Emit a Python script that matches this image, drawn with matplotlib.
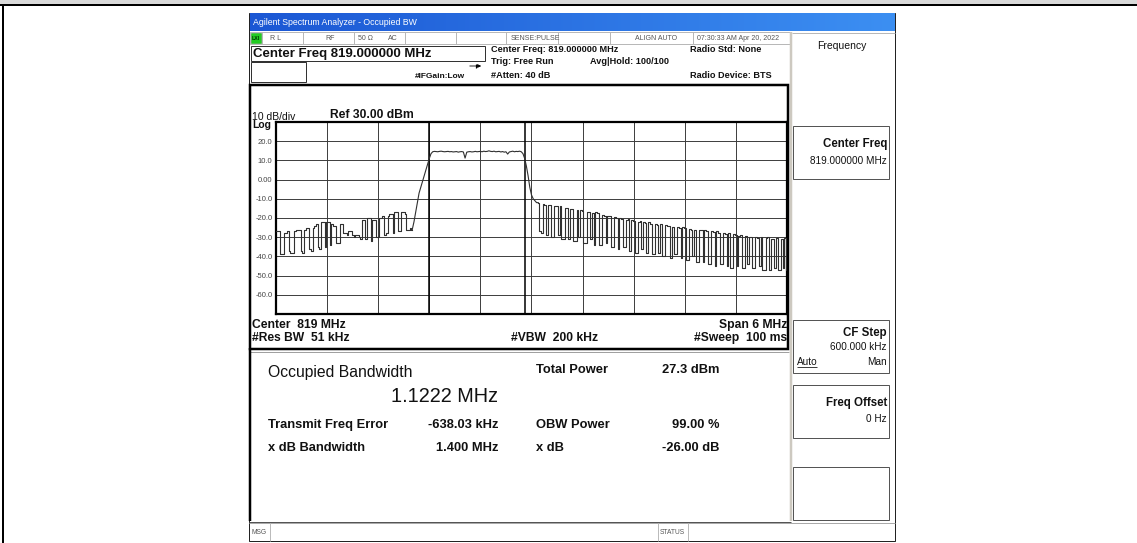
import matplotlib
matplotlib.use('Agg')
import matplotlib.pyplot as plt
import numpy as np
from matplotlib.patches import Rectangle

plt.rcParams['font.family'] = ['Liberation Sans', 'DejaVu Sans']

# ---------------- data ----------------
freq_start_mhz = 816.0
freq_stop_mhz = 822.0
trace_dbm = [
    -27, -27, -27, -39, -39, -28, -28, -27, -37, -38,
    -38, -27, -26, -26, -26, -37, -38, -26, -25, -25,
    -36, -37, -25, -24, -23, -35, -36, -22, -22, -35,
    -22, -22, -34, -23, -24, -24, -33, -33, -23, -23,
    -28, -28, -29, -27, -27, -29, -30, -29, -29, -30,
    -31, -21, -21, -31, -20, -20, -32, -21, -21, -30,
    -30, -20, -20, -19, -29, -28, -19, -18, -18, -28,
    -17, -17, -27, -27, -17, -17, -18, -26, -26, -25,
    -26, -22, -17, -12, -7, -4, -1, 2, 5, 8,
    11, 13.5, 14.5, 14.7, 14.6, 14.5, 14.7, 14.8, 14.6, 14.5,
    14.6, 14.7, 14.5, 14.6, 14.4, 14.5, 14.6, 14.3, 14.5, 14.6,
    14.4, 11.2, 14.3, 14.5, 14.6, 14.4, 14.5, 14.7, 14.5, 14.6,
    14.7, 14.5, 14.8, 14.6, 14.7, 15.0, 14.7, 14.6, 14.8, 14.5,
    14.6, 14.7, 14.4, 14.6, 14.3, 14.5, 13.3, 14.4, 14.6, 14.8,
    14.5, 14.7, 14.6, 14.8, 14.5, 13.5, 11, 7, 2, -4,
    -8, -10, -11, -12, -12, -27, -28, -12.5, -13, -29,
    -13, -13, -30, -30, -14, -14, -29, -14, -31, -31,
    -15, -15, -31, -15.5, -15.5, -32, -32, -16, -30, -16,
    -16.5, -33, -33, -17, -17, -31, -17.5, -34, -17, -17.5,
    -34, -34, -18.5, -19, -33, -19, -19, -35, -35, -19.5,
    -20, -36, -20, -20.5, -35, -35, -21, -20.5, -37, -21,
    -21.5, -38, -38, -22, -21.5, -36, -22, -22.5, -38, -22,
    -23, -39, -39, -23, -23.5, -38, -23, -40, -40, -23.5,
    -24, -24, -41, -24.5, -39, -39, -24.5, -25, -41, -24.5,
    -25, -42, -42, -25.5, -26, -40, -26, -43, -43, -26,
    -26.5, -43, -26.5, -27, -44, -44, -27, -27.5, -45, -27,
    -28, -44, -44, -28, -28.5, -45, -28, -46, -46, -28.5,
    -29, -45, -29.5, -29, -46, -46, -29.5, -44, -30, -30,
    -46, -46, -30, -30.5, -45, -30, -47, -47, -30.5, -30,
    -47, -31, -31, -46, -30.5, -47, -47, -31, -46, -30.5,
    -47,
]
# sample indices where the carrier (smooth part) starts and ends
carrier_first_index = 80
carrier_last_index = 154
obw_markers_mhz = [817.80, 818.922]
ref_level_dbm = 30
bottom_level_dbm = -70
y_tick_values = [30, 20, 10, 0, -10, -20, -30, -40, -50, -60, -70]
y_tick_labels = ['', '20.0', '10.0', '0.00', '-10.0', '-20.0', '-30.0',
                 '-40.0', '-50.0', '-60.0', '']
n_xdiv = 10

# ---------------- figure ----------------
W, H = 1137, 543
fig = plt.figure(figsize=(W / 100, H / 100), dpi=100)
bg = fig.add_axes([0, 0, 1, 1])
bg.set_zorder(0)
bg.set_xlim(0, W)
bg.set_ylim(H, 0)
bg.axis('off')

PX = 0.72


def rect(x0, y0, x1, y1, fc='none', ec='none', lw=1, z=1):
    bg.add_patch(Rectangle((x0, y0), x1 - x0, y1 - y0, facecolor=fc,
                           edgecolor=ec, linewidth=lw * PX, zorder=z))


def line(xs, ys, c='k', lw=1, z=2):
    bg.plot(xs, ys, color=c, lw=lw * PX, zorder=z, solid_capstyle='butt')


def txt(x, y, s, size=7, weight='normal', ha='left', color='#111111', **kw):
    bg.text(x, y, s, fontsize=size, fontweight=weight, ha=ha, va='center',
            color=color, zorder=6, **kw)


# page frame
rect(0, 0, W, 4, fc='#d9d9d9', z=0)
line([0, W], [5, 5], 'k', 2)
line([3, 3], [5, H], 'k', 2)

# screenshot body
rect(249, 13, 895, 541, fc='white', ec='#222222', lw=1, z=0.5)

# title bar gradient
grad = np.linspace(0, 1, 256)
c0 = np.array([0x1b, 0x57, 0xd4]) / 255
c1 = np.array([0x3c, 0x8f, 0xf2]) / 255
img = (c0[None, :] * (1 - grad[:, None]) + c1[None, :] * grad[:, None])[None, :, :]
bg.imshow(img, extent=(249.5, 894.5, 31, 13.5), aspect='auto', zorder=1)
bg.set_xlim(0, W)
bg.set_ylim(H, 0)
txt(253, 22.5, 'Agilent Spectrum Analyzer - Occupied BW', 6.3, color='white')

# status row
rect(249.5, 32, 791, 44, fc='white', ec='#b8b8b8', lw=1)
rect(251, 33, 261, 43, fc='#22cc22', ec='#119911', lw=0.5, z=2)
txt(252, 38.5, 'LXI', 3.8, 'bold', color='#003300')
for xd in [262, 303, 354, 405, 456, 506, 558, 610, 693]:
    line([xd, xd], [32, 44], '#b8b8b8', 1)
for xs, s in [(270, 'R L'), (325, 'RF'), (358, '50 Ω'), (388, 'AC'),
              (511, 'SENSE:PULSE'), (635, 'ALIGN AUTO'),
              (697, '07:30:33 AM Apr 20, 2022')]:
    txt(xs, 38.5, s, 5, color='#555555')

# header
rect(251, 46, 485, 61, ec='#333333', lw=1)
txt(253, 53.5, 'Center Freq 819.000000 MHz', 9.5, 'bold')
rect(251, 62, 306, 82, ec='#333333', lw=1)
txt(415, 76, '#IFGain:Low', 6, 'bold')
bg.annotate('', xy=(484, 66), xytext=(467, 66),
            arrowprops=dict(arrowstyle='-|>', lw=0.6, color='k', mutation_scale=5),
            zorder=6)
line([475.5, 475.5], [64, 68], 'k', 1.2)
txt(491, 49.5, 'Center Freq: 819.000000 MHz', 6.6, 'bold')
txt(491, 62, 'Trig: Free Run', 6.6, 'bold')
txt(590, 61.5, 'Avg|Hold: 100/100', 6.6, 'bold')
txt(491, 75, '#Atten: 40 dB', 6.6, 'bold')
txt(690, 49.5, 'Radio Std: None', 6.6, 'bold')
txt(690, 75, 'Radio Device: BTS', 6.6, 'bold')

# graph panel
rect(249.5, 84.5, 787.5, 348.5, ec='black', lw=2.5, z=3)
line([249, 789], [352, 352], '#a0a0a0', 1)
txt(252, 116.5, '10 dB/div', 7.5)
txt(330, 115.5, 'Ref 30.00 dBm', 8.7, 'bold')
txt(252, 125.5, 'Log', 7.5, 'bold')
txt(252, 325, 'Center  819 MHz', 8.7, 'bold')
txt(252, 338, '#Res BW  51 kHz', 8.7, 'bold')
txt(511, 338, '#VBW  200 kHz', 8.7, 'bold')
txt(787, 325, 'Span 6 MHz', 8.7, 'bold', ha='right')
txt(787, 338, '#Sweep  100 ms', 8.7, 'bold', ha='right')

# results panel
line([249.5, 249.5], [348, 521], 'black', 2.5)
line([249, 791], [521.5, 521.5], '#555555', 1)
txt(268, 372, 'Occupied Bandwidth', 11.3)
txt(498, 397, '1.1222 MHz', 14.3, ha='right')
txt(268, 425, 'Transmit Freq Error', 9.3, 'bold')
txt(499, 425, '-638.03 kHz', 9.3, 'bold', ha='right')
txt(268, 448, 'x dB Bandwidth', 9.3, 'bold')
txt(499, 448, '1.400 MHz', 9.3, 'bold', ha='right')
txt(536, 370, 'Total Power', 9.3, 'bold')
txt(719, 370, '27.3 dBm', 9.3, 'bold', ha='right')
txt(536, 425, 'OBW Power', 9.3, 'bold')
txt(719, 425, '99.00 %', 9.3, 'bold', ha='right')
txt(536, 448, 'x dB', 9.3, 'bold')
txt(719, 448, '-26.00 dB', 9.3, 'bold', ha='right')

# softkey panel
line([791, 791], [32, 521], '#cdc9c0', 2.5)
line([792, 895], [33, 33], '#b8b8b8', 1)
txt(842, 46, 'Frequency', 7.5, ha='center')
for (y0, y1) in [(126, 179), (320, 373), (385, 438), (467, 520)]:
    rect(793, y0, 889, y1, ec='#555555', lw=1)
txt(887, 144, 'Center Freq', 8.3, 'bold', ha='right')
txt(887, 161, '819.000000 MHz', 7.2, ha='right')
txt(887, 333, 'CF Step', 8.3, 'bold', ha='right')
txt(887, 347, '600.000 kHz', 7.2, ha='right')
txt(797, 362, 'Auto', 7.2)
line([797, 817], [367, 367], '#111111', 0.8)
txt(887, 362, 'Man', 7.2, ha='right')
txt(887, 403, 'Freq Offset', 8.3, 'bold', ha='right')
txt(887, 419, '0 Hz', 7.2, ha='right')

# message row
line([249, 895], [523, 523], '#aaaaaa', 1)
for xd in [270, 658, 688]:
    line([xd, xd], [523, 541], '#bbbbbb', 1)
txt(251, 532, 'MSG', 4.8, color='#555555')
txt(660, 532, 'STATUS', 4.8, color='#555555')

# ---------------- spectrum axes ----------------
x0, x1, y0, y1 = 276, 787, 122, 314
ax = fig.add_axes([x0 / W, 1 - y1 / H, (x1 - x0) / W, (y1 - y0) / H])
ax.set_zorder(2)
ax.set_facecolor('white')
freqs = np.linspace(freq_start_mhz, freq_stop_mhz, len(trace_dbm))
levels = np.array(trace_dbm, dtype=float)
ax.set_xlim(freq_start_mhz, freq_stop_mhz)
ax.set_ylim(bottom_level_dbm, ref_level_dbm)
ax.set_xticks(np.linspace(freq_start_mhz, freq_stop_mhz, n_xdiv + 1))
ax.set_xticklabels([])
ax.set_yticks(y_tick_values)
ax.set_yticklabels(y_tick_labels, fontsize=5.5, color='#444444')
ax.tick_params(axis='both', length=0)
ax.tick_params(axis='y', pad=2.5)
ax.grid(True, color='#3c3c3c', lw=0.7)
ax.set_axisbelow(True)
for sp in ax.spines.values():
    sp.set_color('black')
    sp.set_linewidth(1.6)
for m in obw_markers_mhz:
    ax.axvline(m, color='black', lw=1.1, zorder=2)

a, b = carrier_first_index, carrier_last_index
trace_style = dict(color='#303030', lw=0.8, zorder=3)
ax.plot(freqs[:a + 1], levels[:a + 1], drawstyle='steps-mid', **trace_style)
ax.plot(freqs[a:b + 1], levels[a:b + 1], **trace_style)
ax.plot(freqs[b:], levels[b:], drawstyle='steps-mid', **trace_style)

fig.savefig('out.png', dpi=100)
